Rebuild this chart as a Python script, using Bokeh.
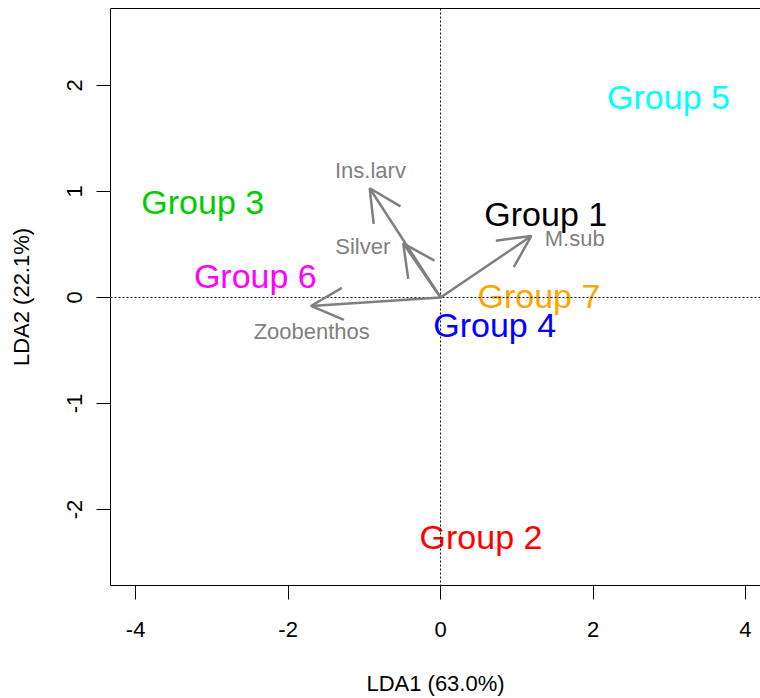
from bokeh.plotting import figure
from bokeh.models import (Range1d, FixedTicker, ColumnDataSource, Arrow, OpenHead,
                          Span, LinearAxis)
from bokeh.core.properties import value
from bokeh.embed import file_html
from bokeh.resources import INLINE

# Group centroids on the first two discriminant axes
groups = ["Group 1", "Group 2", "Group 3", "Group 4", "Group 5", "Group 6", "Group 7"]
group_x = [1.38, 0.53, -3.12, 0.71, 2.99, -2.43, 1.29]
group_y = [0.79, -2.26, 0.90, -0.26, 1.89, 0.20, 0.01]
group_colors = ["#000000", "#FF0000", "#00CD00", "#0000FF", "#00FFFF", "#FF00FF", "#FFA500"]

# Variable loadings (arrows) and their label positions
variables = ["Ins.larv", "Silver", "M.sub", "Zoobenthos"]
load_x = [-0.93, -0.49, 1.19, -1.70]
load_y = [1.03, 0.51, 0.58, -0.08]
var_label_x = [-0.92, -1.02, 1.76, -1.69]
var_label_y = [1.20, 0.48, 0.56, -0.32]

x_ticks = [-4, -2, 0, 2, 4]
y_ticks = [-2, -1, 0, 1, 2]
x_title = "LDA1 (63.0%)"
y_title = "LDA2 (22.1%)"

FONT = "Liberation Sans"
GREY = "#7F7F7F"

p = figure(width=760, height=698, output_backend="svg", toolbar_location=None,
           x_range=Range1d(-4.33, 4.197), y_range=Range1d(-2.717, 2.726),
           min_border_left=110, min_border_right=0, min_border_top=8,
           min_border_bottom=113)
p.background_fill_color = "white"
p.border_fill_color = "white"
p.outline_line_color = None
p.grid.visible = False

for ax, ticks in ((p.xaxis[0], x_ticks), (p.yaxis[0], y_ticks)):
    ax.ticker = FixedTicker(ticks=ticks)
    ax.major_label_overrides = {t: str(t) for t in ticks}
    ax.minor_tick_line_color = None
    ax.major_tick_in = 0
    ax.major_tick_out = 14
    ax.major_tick_line_color = "black"
    ax.axis_line_color = "black"
    ax.major_label_text_font = FONT
    ax.major_label_text_font_size = "22px"
    ax.major_label_text_color = "black"
    ax.axis_label_text_font = FONT
    ax.axis_label_text_font_size = "22px"
    ax.axis_label_text_font_style = "normal"
    ax.axis_label_text_color = "black"

p.xaxis.axis_label = x_title
p.yaxis.axis_label = y_title
p.xaxis.major_label_standoff = 22
p.xaxis.axis_label_standoff = 31
p.yaxis.major_label_orientation = "vertical"
p.yaxis.major_label_standoff = 14
p.yaxis.axis_label_standoff = 31

# Top edge of the plot box (the box is open on the right)
top = LinearAxis(ticker=FixedTicker(ticks=[]), axis_line_color="black",
                 major_tick_line_color=None, minor_tick_line_color=None,
                 major_label_text_font_size="0px")
p.add_layout(top, "above")

# Dotted reference lines through the origin
p.add_layout(Span(location=0, dimension="width", line_color="black",
                  line_dash="2 2", line_width=1))
p.add_layout(Span(location=0, dimension="height", line_color="black",
                  line_dash="2 2", line_width=1))

# Loading arrows
arrows = ColumnDataSource(dict(x0=[0] * len(variables), y0=[0] * len(variables),
                               x1=load_x, y1=load_y))
p.add_layout(Arrow(end=OpenHead(size=32, line_color=GREY, line_width=2.5),
                   x_start="x0", y_start="y0", x_end="x1", y_end="y1",
                   source=arrows, line_color=GREY, line_width=2.5))

p.text(x=var_label_x, y=var_label_y, text=variables, text_color=GREY,
       text_font=value(FONT), text_font_size="22px", text_align="center",
       text_baseline="middle")

p.text(x=group_x, y=group_y, text=groups, text_color=group_colors,
       text_font=value(FONT), text_font_size="34px", text_align="center",
       text_baseline="middle")

open("out.html", "w").write(file_html(p, INLINE))
